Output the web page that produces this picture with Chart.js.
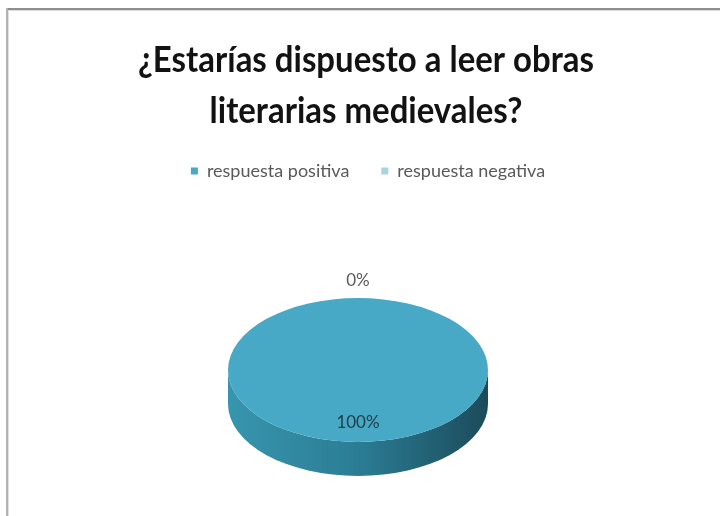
<!DOCTYPE html>
<html>
<head>
<meta charset="utf-8">
<title>Encuesta</title>
<script src="https://cdn.jsdelivr.net/npm/chart.js@4.4.1/dist/chart.umd.min.js"></script>
<style>
  html, body { margin: 0; padding: 0; background: #fff; }
  #wrap { position: relative; width: 720px; height: 516px; }
</style>
</head>
<body>
<div id="wrap"><canvas id="grafico" width="720" height="516"></canvas></div>
<script>
const tituloLineas = ['¿Estarías dispuesto a leer obras', 'literarias medievales?'];
const categorias = ['respuesta positiva', 'respuesta negativa'];
const valores = [100, 0];

const coloresCara = ['#47a9c6', '#a8d4e0'];
// lateral del cilindro: claro a la izquierda, oscuro a la derecha
const coloresLado = [['#3795ae', '#2b7d94', '#1b4b5b'], ['#8fc2d0', '#7cb0bf', '#5f8f9c']];

// tarta "3d": elipse superior + grosor
const tarta = { cx: 358, cy: 370, rx: 130, ry: 72, grosor: 34 };

function geometria(chart) {
    const arcs = chart.getDatasetMeta(0).data;
    const a = arcs[0];
    const s = tarta.rx / a.outerRadius;
    return {
        arcs: arcs,
        xa: a.x,
        ya: a.y,
        r: a.outerRadius,
        s: s,
        k: tarta.ry / tarta.rx
    };
}

function aPantalla(g, px, py) {
    return {
        x: tarta.cx + (px - g.xa) * g.s,
        y: tarta.cy + (py - g.ya) * g.s * g.k
    };
}

const marco = {
    id: 'marco',
    beforeDraw(chart) {
        const ctx = chart.ctx;
        ctx.save();
        ctx.fillStyle = '#fff';
        ctx.fillRect(0, 0, chart.width, chart.height);
        ctx.fillStyle = '#8e8e8e';
        ctx.fillRect(6, 8, chart.width - 6, 2);
        ctx.fillStyle = '#dadada';
        ctx.fillRect(8, 10, chart.width - 8, 1);
        ctx.fillStyle = '#b2b2b2';
        ctx.fillRect(6, 8, 2, chart.height - 8);
        ctx.fillStyle = '#e2e2e2';
        ctx.fillRect(8, 10, 1, chart.height - 10);
        ctx.restore();
    }
};

const titulo = {
    id: 'titulo',
    afterDraw(chart) {
        const ctx = chart.ctx;
        ctx.save();
        ctx.fillStyle = '#121212';
        ctx.font = 'bold 37px Lato';
        ctx.textAlign = 'center';
        ctx.textBaseline = 'alphabetic';
        const bases = [72, 123];
        tituloLineas.forEach((linea, i) => {
            ctx.save();
            ctx.translate(366, bases[i]);
            ctx.scale(0.89, 1);
            ctx.fillText(linea, 0, 0);
            ctx.restore();
        });
        ctx.restore();
    }
};

const tarta3d = {
    id: 'tarta3d',
    beforeDatasetsDraw(chart) {
        const ctx = chart.ctx;
        const g = geometria(chart);

        // lateral visible (mitad delantera) de cada porción
        g.arcs.forEach((arc, i) => {
            const a0 = Math.max(arc.startAngle, 0);
            const a1 = Math.min(arc.endAngle, Math.PI);
            if (a1 <= a0) return;
            const grad = ctx.createLinearGradient(tarta.cx - tarta.rx, 0, tarta.cx + tarta.rx, 0);
            grad.addColorStop(0, coloresLado[i][0]);
            grad.addColorStop(0.5, coloresLado[i][1]);
            grad.addColorStop(1, coloresLado[i][2]);
            ctx.save();
            ctx.beginPath();
            ctx.ellipse(tarta.cx, tarta.cy, tarta.rx, tarta.ry, 0, a0, a1, false);
            ctx.ellipse(tarta.cx, tarta.cy + tarta.grosor, tarta.rx, tarta.ry, 0, a1, a0, true);
            ctx.closePath();
            ctx.fillStyle = grad;
            ctx.fill();
            ctx.restore();
        });

        // la cara superior se aplasta en vertical
        ctx.save();
        ctx.translate(tarta.cx, tarta.cy);
        ctx.scale(g.s, g.s * g.k);
        ctx.translate(-g.xa, -g.ya);
    },
    afterDatasetsDraw(chart) {
        const ctx = chart.ctx;
        ctx.restore();

        const g = geometria(chart);
        const total = valores.reduce((a, b) => a + b, 0);
        ctx.save();
        ctx.font = '17px Lato';
        ctx.textAlign = 'center';
        ctx.textBaseline = 'middle';
        g.arcs.forEach((arc, i) => {
            const medio = (arc.startAngle + arc.endAngle) / 2;
            const dentro = valores[i] > 0;
            const f = dentro ? 0.73 : 1.24;
            const p = aPantalla(g, g.xa + Math.cos(medio) * g.r * f, g.ya + Math.sin(medio) * g.r * f);
            ctx.fillStyle = dentro ? '#203e4b' : '#5a5a5a';
            ctx.fillText(Math.round(valores[i] / total * 100) + '%', p.x, p.y);
        });
        ctx.restore();
    }
};

new Chart(document.getElementById('grafico'), {
    type: 'pie',
    data: {
        labels: categorias,
        datasets: [{
            data: valores,
            backgroundColor: coloresCara,
            borderWidth: 0,
            hoverOffset: 0,
            clip: false
        }]
    },
    options: {
        responsive: false,
        animation: false,
        events: [],
        layout: {
            padding: { top: 130, left: 16, right: 0, bottom: 40 }
        },
        plugins: {
            legend: {
                display: true,
                position: 'top',
                labels: {
                    boxWidth: 7,
                    boxHeight: 7,
                    padding: 32,
                    color: '#595959',
                    font: { family: 'Lato', size: 18 }
                }
            },
            tooltip: { enabled: false }
        }
    },
    plugins: [marco, titulo, tarta3d]
});
</script>
</body>
</html>
